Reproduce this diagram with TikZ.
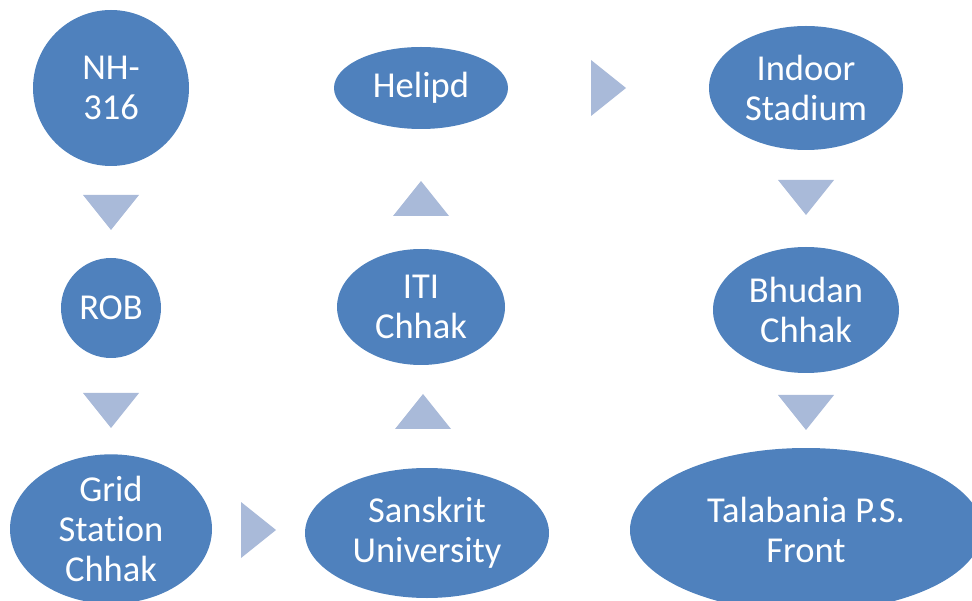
\documentclass[tikz,border=0pt]{standalone}
\usepackage{fontspec}
\setmainfont{Carlito}[Ligatures=NoCommon]
\usetikzlibrary{shapes.geometric}
\definecolor{ellblue}{HTML}{4F81BD}
\definecolor{triblue}{HTML}{A9BAD9}
\tikzset{
  stage/.style={ellipse, fill=ellblue, draw=none, inner sep=0pt, text=white, align=center,
    font=\fontsize{36.5}{40}\selectfont},
  tri/.style={fill=triblue, draw=none}
}
\begin{document}
\begin{tikzpicture}[x=1pt,y=-1pt]
\useasboundingbox (0,0) rectangle (972,601);
% stages
\node[stage, minimum width=156, minimum height=156] (nh) at (111,88) {NH-\\316};
\node[stage, minimum width=100, minimum height=100] (rob) at (111,308) {ROB};
\node[stage, minimum width=202, minimum height=142] (grid) at (111,529) {Grid\\Station\\Chhak};
\node[stage, minimum width=244, minimum height=130] (sans) at (427,533) {Sanskrit\\University};
\node[stage, minimum width=168, minimum height=116] (iti) at (421,307) {ITI\\Chhak};
\node[stage, minimum width=174, minimum height=82] (heli) at (421,88) {Helipd};
\node[stage, minimum width=194, minimum height=124] (indoor) at (806,88) {Indoor\\Stadium};
\node[stage, minimum width=186, minimum height=126] (bhudan) at (806,310) {Bhudan\\Chhak};
\node[stage, minimum width=352, minimum height=164] (tala) at (806,530) {Talabania P.S.\\Front};
% arrow triangles
\coordinate (t1) at (111,212);
\coordinate (t2) at (111,410);
\coordinate (t3) at (258,530);
\coordinate (t4) at (423,412);
\coordinate (t5) at (421,199);
\coordinate (t6) at (608,88);
\coordinate (t7) at (806,197);
\coordinate (t8) at (806,412);
\foreach \t in {t1,t2,t7,t8}{
  \fill[tri] ([shift={(-28,-17)}]\t) -- ([shift={(28,-17)}]\t) -- ([shift={(0,18)}]\t) -- cycle;
}
\foreach \t in {t4,t5}{
  \fill[tri] ([shift={(-28,17)}]\t) -- ([shift={(28,17)}]\t) -- ([shift={(0,-18)}]\t) -- cycle;
}
\foreach \t in {t3,t6}{
  \fill[tri] ([shift={(-17,-28)}]\t) -- ([shift={(-17,28)}]\t) -- ([shift={(18,0)}]\t) -- cycle;
}
\end{tikzpicture}
\end{document}
